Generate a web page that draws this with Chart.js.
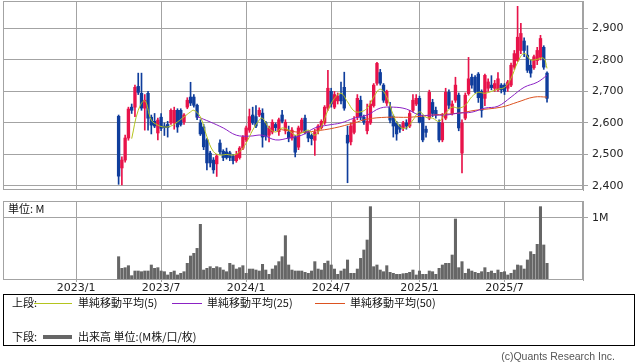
<!DOCTYPE html>
<html>
<head>
<meta charset="utf-8">
<script src="https://cdn.jsdelivr.net/npm/chart.js"></script>
<style>
body { margin:0; width:638px; height:362px; position:relative; background:#fff; overflow:hidden;
       font-family:"Noto Sans CJK JP","DejaVu Sans",sans-serif; color:#111; }
.abs { position:absolute; white-space:nowrap; }
.lg { font-size:11px; line-height:13px; }
.sw { position:absolute; height:1px; }
</style>
</head>
<body>

<div class="abs" style="left:0;top:0;"><canvas id="price" width="638" height="191"></canvas></div>
<div class="abs" style="left:0;top:200px;"><canvas id="volume" width="638" height="96"></canvas></div>
<div class="abs lg" style="left:8px;top:202px;">単位: M</div>

<div class="abs" style="left:3px;top:294px;width:632px;height:52px;border:1px solid #000;box-sizing:border-box;"></div>
<div class="abs lg" style="left:12px;top:296px;">上段:</div>
<div class="sw" style="left:34px;top:303px;width:38px;background:#b4c41e;"></div>
<div class="abs lg" style="left:78px;top:296px;">単純移動平均(5)</div>
<div class="sw" style="left:172px;top:303px;width:30px;background:#8b22c4;"></div>
<div class="abs lg" style="left:207px;top:296px;">単純移動平均(25)</div>
<div class="sw" style="left:315px;top:303px;width:30px;background:#dc5220;"></div>
<div class="abs lg" style="left:350px;top:296px;">単純移動平均(50)</div>
<div class="abs lg" style="left:12px;top:330px;">下段:</div>
<div class="sw" style="left:43px;top:335px;width:29px;height:4px;background:#666;"></div>
<div class="abs lg" style="left:78px;top:330px;">出来高 単位:(M株/口/枚)</div>
<div class="abs" style="right:23px;top:350px;font-family:'Liberation Sans',sans-serif;font-size:10.5px;color:#555;">(c)Quants Research Inc.</div>

<script>
// weekly candles, week 0 = 2023/4 first week
var opens  = [2621,2457,2482,2552,2650,2650,2716,2694,2647,2694, 2618,2605,2568,2618,2590,2595,2600,2600,2640,2640,
              2603,2650,2682,2682,2656,2600,2587,2546,2504,2482, 2470,2536,2510,2508,2505,2495,2480,2490,2520,2546,
              2577,2625,2620,2625,2631,2600,2561,2571,2595,2572, 2625,2575,2571,2552,2555,2523,2577,2615,2571,2560,
              2545,2575,2585,2600,2647,2700,2650,2670,2690,2713, 2561,2540,2570,2618,2672,2618,2575,2600,2655,2726,
              2760,2720,2663,2650,2620,2600,2590,2585,2600,2590, 2640,2660,2678,2618,2580,2615,2665,2640,2602,2546,
              2615,2697,2630,2672,2688,2504,2615,2693,2745,2745, 2755,2700,2678,2710,2720,2710,2705,2720,2720,2710,
              2720,2777,2798,2830,2860,2815,2783,2775,2798,2808, 2840,2758];
var highs  = [2625,2492,2561,2650,2660,2720,2758,2758,2690,2700, 2625,2630,2615,2630,2600,2605,2645,2650,2645,2645,
              2630,2680,2729,2690,2660,2610,2595,2550,2510,2490, 2500,2546,2515,2520,2510,2500,2510,2525,2560,2590,
              2644,2650,2655,2648,2645,2605,2590,2610,2600,2615, 2640,2610,2590,2585,2560,2590,2615,2625,2575,2565,
              2580,2595,2610,2655,2767,2710,2700,2695,2730,2761, 2590,2600,2620,2690,2685,2625,2660,2670,2725,2792,
              2770,2725,2704,2665,2625,2605,2595,2605,2610,2640, 2690,2690,2685,2625,2590,2704,2675,2650,2610,2630,
              2710,2705,2670,2745,2695,2610,2695,2808,2755,2750, 2760,2705,2755,2740,2750,2735,2760,2725,2725,2735,
              2790,2830,2970,2916,2870,2845,2800,2815,2840,2878, 2845,2762];
var lows   = [2405,2403,2475,2545,2630,2620,2690,2640,2577,2577, 2565,2585,2546,2575,2560,2555,2595,2580,2570,2590,
              2595,2645,2655,2650,2610,2560,2515,2451,2460,2440, 2430,2500,2480,2485,2480,2470,2475,2485,2515,2540,
              2570,2595,2585,2620,2523,2545,2540,2565,2575,2560, 2600,2565,2540,2545,2492,2515,2570,2565,2540,2530,
              2497,2565,2580,2595,2640,2650,2645,2660,2660,2640, 2410,2530,2565,2610,2610,2595,2565,2595,2650,2720,
              2720,2665,2655,2600,2555,2545,2570,2575,2580,2585, 2635,2655,2600,2540,2555,2610,2620,2615,2540,2540,
              2610,2645,2625,2665,2575,2441,2610,2688,2710,2695, 2665,2618,2655,2700,2705,2700,2700,2695,2690,2700,
              2715,2770,2795,2820,2810,2760,2745,2770,2785,2800, 2770,2666];
var closes = [2431,2482,2552,2644,2640,2713,2697,2647,2672,2615, 2593,2590,2609,2583,2585,2585,2640,2640,2587,2595,
              2625,2672,2663,2656,2618,2565,2524,2473,2473,2451, 2495,2508,2490,2490,2490,2480,2500,2520,2555,2584,
              2620,2600,2590,2640,2555,2557,2584,2602,2585,2610, 2605,2602,2552,2577,2507,2584,2609,2571,2552,2550,
              2570,2590,2605,2650,2710,2660,2690,2685,2670,2647, 2536,2590,2610,2678,2618,2602,2605,2660,2720,2789,
              2726,2672,2700,2609,2590,2565,2580,2600,2590,2630, 2672,2678,2602,2546,2570,2697,2630,2625,2546,2600,
              2697,2656,2660,2720,2584,2600,2688,2740,2720,2700, 2680,2640,2751,2730,2712,2725,2740,2705,2700,2730,
              2783,2820,2872,2884,2830,2767,2758,2810,2830,2868, 2777,2678];
// volume, million shares
var volumes = [0.376,0.188,0.199,0.231,0.07,0.145,0.145,0.134,0.145,0.145, 0.242,0.188,0.199,0.145,0.134,0.081,0.124,0.145,0.081,0.108,
               0.134,0.269,0.387,0.43,0.51,0.898,0.161,0.188,0.215,0.188, 0.215,0.2,0.161,0.134,0.269,0.242,0.177,0.199,0.231,0.108,
               0.177,0.177,0.161,0.145,0.253,0.161,0.091,0.177,0.231,0.296, 0.376,0.715,0.242,0.161,0.145,0.145,0.145,0.124,0.108,0.145,
               0.296,0.177,0.161,0.269,0.306,0.242,0.177,0.091,0.145,0.177, 0.323,0.108,0.108,0.177,0.349,0.484,0.645,1.183,0.215,0.242,
               0.161,0.134,0.231,0.124,0.108,0.091,0.091,0.102,0.108,0.124, 0.161,0.081,0.145,0.091,0.091,0.145,0.134,0.091,0.188,0.242,
               0.269,0.269,0.403,0.984,0.199,0.296,0.108,0.177,0.145,0.124, 0.108,0.134,0.199,0.124,0.145,0.108,0.161,0.124,0.134,0.081,
               0.108,0.161,0.242,0.231,0.177,0.323,0.457,0.414,0.575,1.183, 0.565,0.269];

// moving averages (week, value)
var ma5Week = [4,6,8,10,12,14,16,18,20,22,23,25,27,29,31,33,35,37,39,41,43,44,46,48,50,52,54,56,58,60,62,64,66,68,70,72,74,76,78,80,
               82,84,86,88,90,92,94,96,98,100,102,104,106,108,110,112,114,116,118,120,122,124,126,128,130,131];
var ma5 = [2550,2640,2670,2609,2593,2587,2590,2603,2619,2635,2640,2619,2556,2509,2498,2500,2498,2508,2536,2577,
           2609,2615,2584,2571,2584,2577,2561,2568,2577,2561,2588,2640,2678,2694,2667,2638,2635,2647,2682,2707,
           2682,2625,2588,2584,2609,2635,2618,2615,2605,2631,2650,2647,2656,2683,2697,2694,2700,2707,2713,2742,
           2792,2821,2800,2802,2805,2773];
var ma25Week = [24,28,32,36,40,44,48,52,56,60,64,68,72,76,80,84,88,92,96,100,104,108,112,116,120,124,128,131];
var ma25 = [2620,2603,2584,2561,2558,2561,2546,2552,2561,2584,2593,2600,2615,2625,2647,2650,2644,2625,2625,2625,
            2631,2634,2647,2653,2682,2713,2729,2751];
var ma50Week = [49,52,56,60,66,72,76,82,89,96,104,109,117,122,127,131];
var ma50 = [2580,2575,2570,2574,2584,2600,2612,2618,2618,2625,2631,2640,2650,2666,2682,2682];

var tickWeek = [-13, 13, 39, 65, 92, 118];
var tickLabels = ['2023/1', '2023/7', '2024/1', '2024/7', '2025/1', '2025/7'];
var priceTicks = [2400, 2500, 2600, 2700, 2800, 2900];
var volTicks = [1];

var xMin = -35.35, xMax = 142;
var gridColor = '#a3a3a3';
var upColor = '#e8134a', downColor = '#0f3d9c';

function pts(xs, ys) {
    return ys.map(function (v, i) { return {x: xs[i], y: v}; });
}
var candleColors = closes.map(function (c, i) { return c >= opens[i] ? upColor : downColor; });

// no label overhang padding, the plot area is placed by layout.padding only
function noPad(s) {
    s.paddingTop = 0; s.paddingBottom = 0; s.paddingLeft = 0; s.paddingRight = 0;
}

var frame = {
    id: 'frame',
    afterDraw: function (chart) {
        var a = chart.chartArea, ctx = chart.ctx;
        ctx.save();
        ctx.strokeStyle = gridColor;
        ctx.lineWidth = 1;
        ctx.strokeRect(Math.round(a.left) + 0.5, Math.round(a.top) + 0.5,
                       Math.round(a.right - a.left) - 1, Math.round(a.bottom - a.top) - 1);
        ctx.restore();
    }
};

function maLine(label, xs, ys, color) {
    return {type: 'line', label: label, data: pts(xs, ys), borderColor: color, borderWidth: 1,
            pointRadius: 0, tension: 0.4, order: 0};
}

new Chart(document.getElementById('price'), {
    type: 'bar',
    data: {
        datasets: [
            maLine('MA5', ma5Week, ma5, '#b4c41e'),
            maLine('MA25', ma25Week, ma25, '#8b22c4'),
            maLine('MA50', ma50Week, ma50, '#dc5220'),
            {
                label: 'body',
                data: opens.map(function (o, i) { return {x: i, y: [o, closes[i]]}; }),
                backgroundColor: candleColors,
                barThickness: 2.7, grouped: false, minBarLength: 1, order: 1
            },
            {
                label: 'wick',
                data: lows.map(function (l, i) { return {x: i, y: [l, highs[i]]}; }),
                backgroundColor: candleColors,
                barThickness: 1, grouped: false, order: 2
            }
        ]
    },
    options: {
        responsive: false,
        animation: false,
        layout: {padding: {left: 3, right: 0, top: 1, bottom: 1}},
        plugins: {legend: {display: false}, tooltip: {enabled: false}},
        scales: {
            x: {
                type: 'linear', min: xMin, max: xMax, offset: false,
                afterBuildTicks: function (s) { s.ticks = tickWeek.map(function (v) { return {value: v}; }); },
                afterFit: function (s) { s.height = 0; noPad(s); },
                ticks: {display: false},
                grid: {color: gridColor, drawTicks: false, offset: false},
                border: {display: false}
            },
            y: {
                position: 'right', min: 2387, max: 2987,
                afterBuildTicks: function (s) { s.ticks = priceTicks.map(function (v) { return {value: v}; }); },
                afterFit: function (s) { s.width = 55; noPad(s); },
                ticks: {
                    callback: function (v) { return v.toLocaleString('en-US'); },
                    font: {family: 'DejaVu Sans', size: 11}, color: '#222', padding: 4
                },
                grid: {color: gridColor, tickLength: 5},
                border: {color: gridColor}
            }
        }
    },
    plugins: [frame]
});

new Chart(document.getElementById('volume'), {
    type: 'bar',
    data: {
        datasets: [{
            label: '出来高',
            data: volumes.map(function (v, i) { return {x: i, y: v}; }),
            backgroundColor: '#666666',
            barThickness: 2.4
        }]
    },
    options: {
        responsive: false,
        animation: false,
        layout: {padding: {left: 3, right: 0, top: 1, bottom: 0}},
        plugins: {legend: {display: false}, tooltip: {enabled: false}},
        scales: {
            x: {
                type: 'linear', min: xMin, max: xMax, offset: false,
                afterBuildTicks: function (s) { s.ticks = tickWeek.map(function (v) { return {value: v}; }); },
                afterFit: function (s) { s.height = 16; noPad(s); },
                ticks: {
                    callback: function (v) { return tickLabels[tickWeek.indexOf(v)]; },
                    autoSkip: false, maxRotation: 0, padding: 0,
                    font: {family: 'DejaVu Sans', size: 11}, color: '#222'
                },
                grid: {color: gridColor, tickLength: 2, offset: false},
                border: {display: false}
            },
            y: {
                position: 'right', min: 0, max: 1.274,
                afterBuildTicks: function (s) { s.ticks = volTicks.map(function (v) { return {value: v}; }); },
                afterFit: function (s) { s.width = 55; noPad(s); },
                ticks: {
                    callback: function (v) { return v + 'M'; },
                    font: {family: 'DejaVu Sans', size: 11}, color: '#222', padding: 4
                },
                grid: {color: gridColor, tickLength: 5},
                border: {color: gridColor}
            }
        }
    },
    plugins: [frame]
});
</script>
</body>
</html>
